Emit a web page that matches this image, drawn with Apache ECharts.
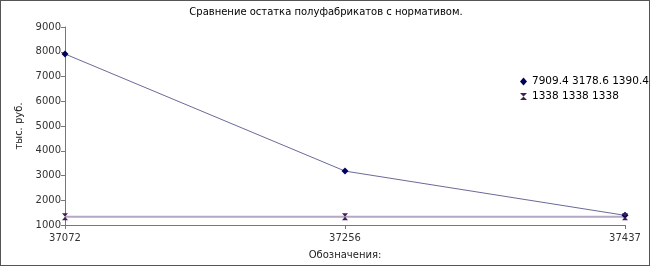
<!DOCTYPE html>
<html><head><meta charset="utf-8">
<script src="https://cdn.jsdelivr.net/npm/echarts@6/dist/echarts.min.js"></script>
<style>html,body{margin:0;padding:0;background:#fff}#c{width:650px;height:266px;box-sizing:border-box;border:1px solid #555}</style>
</head><body><div id="c"></div>
<script>
const categories = ['37072', '37256', '37437'];
const seriesActual = [7909.4, 3178.6, 1390.4];
const seriesNorm = [1338, 1338, 1338];
const nameActual = '7909.4 3178.6 1390.4';
const nameNorm = '1338 1338 1338';
const yTicks = {min: 1000, max: 9000, interval: 1000};

const chart = echarts.init(document.getElementById('c'), null, {renderer: 'canvas'});
const font = 'DejaVu Sans, sans-serif';
const hourglass = 'path://M0,0 L10,0 L0,10 L10,10 Z';
chart.setOption({
  animation: false,
  backgroundColor: '#fff',
  title: {text: 'Сравнение остатка полуфабрикатов с нормативом.', left: 325, textAlign: 'center', top: 6, padding: 0,
    textStyle: {fontFamily: font, fontSize: 10, fontWeight: 'normal', color: '#000'}},
  legend: {orient: 'vertical', left: 519, top: 75, padding: 0, itemWidth: 7, itemHeight: 8, itemGap: 4,
    textStyle: {fontFamily: font, fontSize: 10.5, color: '#000'},
    data: [{name: nameActual, icon: 'diamond'}, {name: nameNorm, icon: hourglass}]},
  grid: {left: 64, right: 24, top: 26, bottom: 37, containLabel: false},
  xAxis: {type: 'category', data: categories, boundaryGap: false,
    name: 'Обозначения:', nameLocation: 'middle', nameGap: 25,
    nameTextStyle: {fontFamily: font, fontSize: 10, color: '#222'},
    axisLine: {lineStyle: {color: '#777'}}, axisTick: {show: true, alignWithLabel: true, lineStyle: {color: '#777'}, length: 4},
    axisLabel: {fontFamily: font, fontSize: 10, color: '#333', margin: 8}, splitLine: {show: false}},
  yAxis: {type: 'value', min: yTicks.min, max: yTicks.max, interval: yTicks.interval,
    name: 'тыс. руб.', nameLocation: 'middle', nameGap: 40, nameRotate: 90,
    nameTextStyle: {fontFamily: font, fontSize: 10, color: '#222'},
    axisLine: {show: true, lineStyle: {color: '#777'}}, axisTick: {show: true, lineStyle: {color: '#777'}, length: 4},
    axisLabel: {fontFamily: font, fontSize: 10, color: '#333', margin: 4, formatter: v => String(v)}, splitLine: {show: false}},
  series: [
    {name: nameActual, type: 'line', data: seriesActual, symbol: 'diamond', symbolSize: 7,
      lineStyle: {color: '#6a6a98', width: 1}, itemStyle: {color: '#000060'}},
    {name: nameNorm, type: 'line', data: seriesNorm, symbol: hourglass, symbolSize: [6, 7],
      lineStyle: {color: '#b4a8c4', width: 2}, itemStyle: {color: '#402050'}}
  ]
});
</script></body></html>
